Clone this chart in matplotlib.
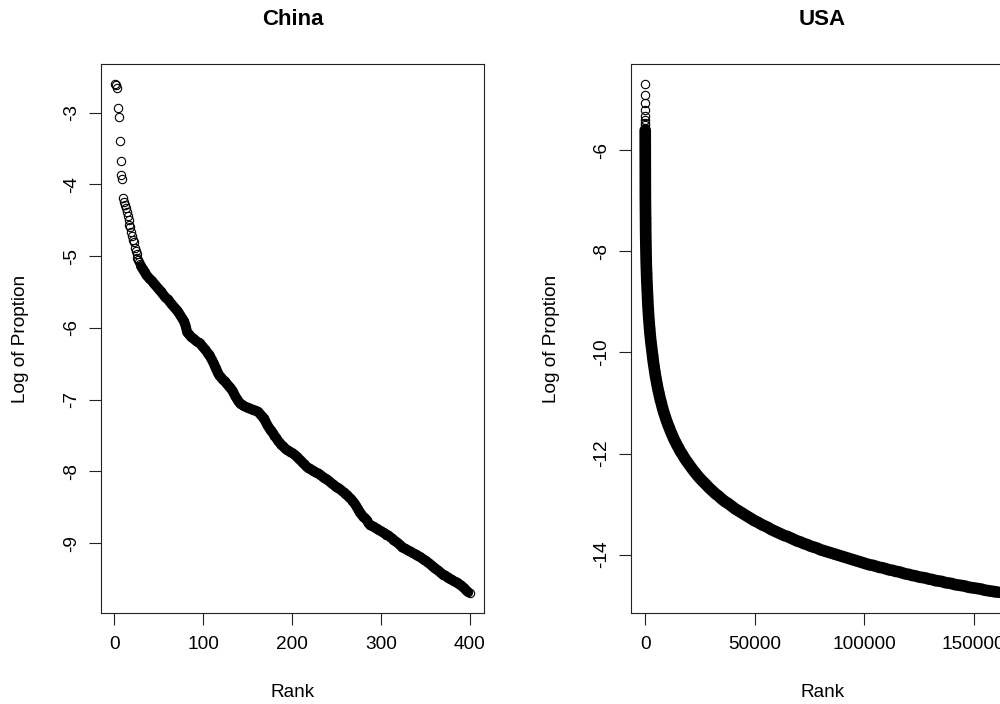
import matplotlib
matplotlib.use("Agg")
import matplotlib.pyplot as plt

plt.rcParams['font.family'] = ['Liberation Sans', 'DejaVu Sans']
plt.rcParams['axes.unicode_minus'] = False

# ---- China: log proportion by rank ----
china_rank = list(range(1, 31)) + list(range(32, 401, 2))
china_logp = [
    -2.605, -2.62, -2.65, -2.94, -3.06, -3.40, -3.68, -3.87, -3.93, -4.19,
    -4.24, -4.29, -4.33, -4.39, -4.44, -4.49, -4.56, -4.60, -4.66, -4.72,
    -4.77, -4.80, -4.88, -4.93, -4.97, -5.03, -5.06, -5.08, -5.11, -5.14,
    -5.18, -5.22, -5.26, -5.29, -5.32, -5.34, -5.37, -5.40, -5.43, -5.46,
    -5.49, -5.52, -5.55, -5.58, -5.60, -5.63, -5.66, -5.69, -5.72, -5.75,
    -5.78, -5.82, -5.86, -5.90, -5.96, -6.06, -6.09, -6.12, -6.14, -6.16,
    -6.18, -6.20, -6.21, -6.24, -6.27, -6.30, -6.33, -6.37, -6.40, -6.45,
    -6.50, -6.56, -6.61, -6.66, -6.69, -6.72, -6.74, -6.77, -6.80, -6.83,
    -6.86, -6.90, -6.95, -6.99, -7.03, -7.06, -7.07, -7.09, -7.10, -7.11,
    -7.12, -7.13, -7.14, -7.15, -7.16, -7.17, -7.20, -7.23, -7.26, -7.30,
    -7.35, -7.39, -7.43, -7.46, -7.50, -7.53, -7.57, -7.60, -7.63, -7.65,
    -7.68, -7.70, -7.71, -7.73, -7.74, -7.76, -7.78, -7.80, -7.83, -7.85,
    -7.88, -7.90, -7.93, -7.95, -7.96, -7.98, -7.99, -8.01, -8.02, -8.03,
    -8.05, -8.07, -8.09, -8.10, -8.12, -8.14, -8.16, -8.18, -8.20, -8.22,
    -8.23, -8.25, -8.27, -8.29, -8.31, -8.33, -8.36, -8.38, -8.41, -8.44,
    -8.48, -8.52, -8.57, -8.60, -8.63, -8.65, -8.68, -8.72, -8.75, -8.76,
    -8.77, -8.79, -8.80, -8.82, -8.83, -8.85, -8.86, -8.88, -8.89, -8.91,
    -8.93, -8.95, -8.97, -8.99, -9.01, -9.03, -9.06, -9.07, -9.08, -9.10,
    -9.11, -9.12, -9.14, -9.15, -9.16, -9.18, -9.19, -9.21, -9.23, -9.24,
    -9.26, -9.28, -9.30, -9.32, -9.34, -9.36, -9.38, -9.40, -9.42, -9.44,
    -9.45, -9.47, -9.48, -9.50, -9.51, -9.53, -9.54, -9.55, -9.57, -9.59,
    -9.61, -9.63, -9.66, -9.68, -9.69,
]

# ---- USA: log proportion by rank (sampled along the curve) ----
usa_rank = [
    1, 2, 3, 4, 5, 6, 7, 8, 9, 10,
    11, 12, 13, 14, 15, 16, 18, 20, 22, 24, 26, 28, 30, 33, 36, 40,
    44, 48, 52, 57, 62, 68, 74, 81, 88, 96, 105, 115, 126, 138, 151,
    165, 180, 197, 215, 235, 257, 281, 307, 336, 367, 401, 438, 479,
    523, 572, 625, 683, 746, 815, 891, 973, 1063, 1161, 1268, 1385,
    1513, 1653, 1806, 1973, 2155, 2354, 2572, 2810, 3069,
    3200, 3350, 3500, 3700, 3900, 4100, 4300, 4500, 4750, 5000, 5250,
    5500, 5800, 6100, 6400, 6700, 7000, 7400, 7800, 8200, 8600, 9000,
    9500, 10000, 10500, 11000, 11500, 12000, 12600, 13200, 13900,
    14600, 15300, 16100, 16900, 17700, 18600, 19600, 20600, 21600,
    22700, 23800, 25000, 26300,
    27500, 29000, 30500, 32000, 33500, 35000, 36500, 38000, 39500,
    41000, 42500, 44000, 45500, 47000, 48500, 50000, 51500, 53000,
    54500, 56000, 57500, 59000, 60500, 62000, 63500, 65000, 66500,
    68000, 69500, 71000, 72500, 74000, 75500, 77000, 78500, 80000,
    81500, 83000, 84500, 86000, 87500, 89000, 90500, 92000, 93500,
    95000, 96500, 98000, 99500, 101000, 102500, 104000, 105500, 107000,
    108500, 110000, 111500, 113000, 114500, 116000, 117500, 119000,
    120500, 122000, 123500, 125000, 126500, 128000, 129500, 131000,
    132500, 134000, 135500, 137000, 138500, 140000, 141500, 143000,
    144500, 146000, 147500, 149000, 150500, 152000, 153500, 155000,
    156500, 158000, 159500, 161000, 162000,
]
usa_logp = [
    -4.70, -4.92, -5.06, -5.21, -5.32, -5.40, -5.46, -5.51, -5.56, -5.61,
    -5.67, -5.72, -5.77, -5.82, -5.86, -5.90, -5.97, -6.04, -6.10, -6.15,
    -6.20, -6.25, -6.29, -6.35, -6.40, -6.47,
    -6.53, -6.58, -6.63, -6.69, -6.74, -6.80, -6.85, -6.91, -6.96, -7.02,
    -7.08, -7.15, -7.22, -7.29, -7.35,
    -7.42, -7.48, -7.55, -7.62, -7.69, -7.75, -7.82, -7.89, -7.95, -8.02,
    -8.09, -8.16, -8.23,
    -8.30, -8.37, -8.44, -8.51, -8.58, -8.65, -8.73, -8.81, -8.89, -8.98,
    -9.07, -9.16,
    -9.24, -9.33, -9.42, -9.51, -9.60, -9.69, -9.78, -9.86, -9.95,
    -10.00, -10.06, -10.11, -10.18, -10.24, -10.30, -10.36, -10.41, -10.48,
    -10.54, -10.60,
    -10.66, -10.72, -10.78, -10.84, -10.89, -10.95, -11.01, -11.08, -11.14,
    -11.20, -11.25,
    -11.32, -11.38, -11.44, -11.49, -11.55, -11.60, -11.66, -11.72, -11.78,
    -11.84, -11.89, -11.96, -12.01, -12.07, -12.13, -12.19, -12.25, -12.31,
    -12.37, -12.43, -12.49, -12.55,
    -12.60, -12.67, -12.73, -12.79, -12.84, -12.90, -12.95, -12.99, -13.04,
    -13.09, -13.13, -13.17, -13.21, -13.25, -13.29, -13.33, -13.36, -13.40,
    -13.43, -13.46, -13.50, -13.53, -13.56, -13.59, -13.62, -13.64, -13.67,
    -13.70, -13.73, -13.75, -13.78, -13.80, -13.83, -13.85, -13.87, -13.90,
    -13.92, -13.94, -13.96, -13.98, -14.00, -14.02, -14.04, -14.06, -14.08,
    -14.10, -14.12, -14.14, -14.16, -14.18, -14.20, -14.21, -14.23, -14.25,
    -14.26, -14.28, -14.30, -14.31, -14.33, -14.34, -14.36, -14.38,
    -14.39, -14.41, -14.42, -14.44, -14.45, -14.46, -14.48, -14.49,
    -14.51, -14.52, -14.53, -14.55, -14.56, -14.57, -14.59, -14.60,
    -14.61, -14.62, -14.64, -14.65, -14.66, -14.67, -14.68, -14.70,
    -14.71, -14.72, -14.73, -14.74, -14.75,
]

china_xticks = [0, 100, 200, 300, 400]
china_yticks = [-9, -8, -7, -6, -5, -4, -3]
usa_xticks = [0, 50000, 100000, 150000]
usa_yticks = [-14, -12, -10, -8, -6]

FS = 13.7
LINE = '#222222'


def r_style(ax, title, xticks, yticks):
    """Base-R look: full box, outward ticks, rotated y labels, 4% padding."""
    ax.margins(0.04)
    ax.set_xticks(xticks)
    ax.set_yticks(yticks)
    ax.set_xticklabels([str(t) for t in xticks])
    ax.set_yticklabels([str(t) for t in yticks])
    for s in ax.spines.values():
        s.set_linewidth(0.8)
        s.set_color(LINE)
    ax.tick_params(direction='out', length=8.8, width=0.8, color=LINE,
                   labelsize=FS, labelcolor='black')
    ax.tick_params(axis='x', pad=8)
    ax.tick_params(axis='y', pad=6)
    plt.setp(ax.get_yticklabels(), rotation=90, va='center')
    ax.set_xlabel('Rank', fontsize=FS)
    ax.xaxis.set_label_coords(0.5, -80 / 549)
    ax.xaxis.label.set_va('center')
    ax.set_ylabel('Log of Proption', fontsize=FS)
    ax.yaxis.set_label_coords(-80 / 383, 0.5)
    ax.yaxis.label.set_va('center')
    ax.text(0.5, 1 + 44 / 549, title, transform=ax.transAxes, ha='center',
            va='center', fontsize=16, fontweight='bold')


def circles(ax, x, y, dense_from, band_lw, ms=6.0, mew=0.8):
    # where thousands of R circles overlap the cloud reads as a solid band
    ax.plot(x[dense_from:-1], y[dense_from:-1], '-', color='black',
            lw=band_lw, solid_capstyle='round', solid_joinstyle='round')
    ax.plot(x, y, 'o', ls='none', mfc='none', mec='black', ms=ms, mew=mew)


fig = plt.figure(figsize=(10, 7.04), dpi=100)
ax1 = fig.add_axes([0.101, 0.1293, 0.383, 0.7798])
ax2 = fig.add_axes([0.631, 0.1293, 0.383, 0.7798])

circles(ax1, china_rank, china_logp, dense_from=29, band_lw=7.2)
circles(ax2, usa_rank, usa_logp, dense_from=9, band_lw=8.4)

r_style(ax1, 'China', china_xticks, china_yticks)
r_style(ax2, 'USA', usa_xticks, usa_yticks)

fig.savefig('out.png', dpi=100)
